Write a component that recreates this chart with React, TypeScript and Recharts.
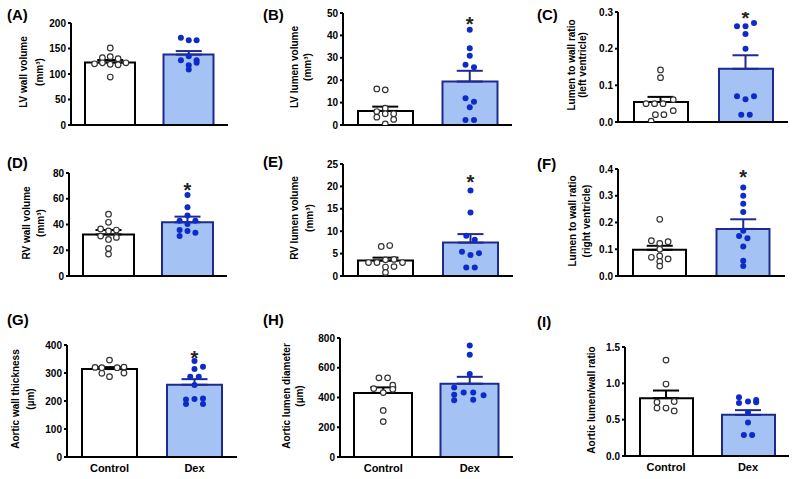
import React from "react";
import { ComposedChart, Bar, Cell, XAxis, YAxis, Scatter, ErrorBar } from "recharts";

const groups = ["Control", "Dex"];

// (A) LV wall volume
const aControl = [151, 132, 134, 130, 120, 122, 119, 118, 122, 94];
const aControlCol = [0, -1, 0, 1, -2, -1, 0, 1, 2, 0];
const aDex = [171, 166, 166, 127, 135, 127, 117, 122, 109];
const aDexCol = [-1, 0, 1, -1, 0, 1, 0, 1, 0];
const aMean = [122.5, 138];
const aSem = [5, 7];

// (B) LV lumen volume
const bControl = [16.1, 15.7, 7.5, 6, 5, 5, 3.5, 2.5, 0.5];
const bControlCol = [-1, 0, 0, -1, 0, 1, -1, 1, 0];
const bDex = [42.5, 34.3, 30.9, 26.9, 25.8, 11.9, 10.4, 7.9, 2.2, 2.2];
const bDexCol = [0, 0, 0, -0.5, 0.5, -0.5, 0.5, 0, -0.5, 0.5];
const bMean = [6.3, 19.4];
const bSem = [1.9, 4.8];

// (C) lumen to wall ratio, left ventricle
const cControl = [0.142, 0.121, 0.05, 0.05, 0.05, 0.061, 0.02, 0.02, 0.031, 0.002];
const cControlCol = [0, 0, -1.7, -0.7, 0.3, 1.5, -0.6, 0.4, 1.5, -1.1];
const cDex = [0.261, 0.261, 0.27, 0.24, 0.2, 0.07, 0.062, 0.07, 0.02, 0.02];
const cDexCol = [-1, 0, 1, 0, 0, -1, 0, 1, -0.5, 0.5];
const cMean = [0.0545, 0.145];
const cSem = [0.014, 0.037];

// (D) RV wall volume
const dControl = [48, 41.7, 36.5, 35, 35.7, 31, 30, 28.4, 21.4, 17];
const dControlCol = [0, 0, -1, 0, 1, -1, 1, 0, 0, 0];
const dDex = [63, 53.4, 46.9, 43, 43, 40.4, 35.7, 34.9, 33.6, 31];
const dDexCol = [0, 0, 0, -1, 1, 0, -1, 0, 1, -1];
const dMean = [32.3, 41.7];
const dSem = [3.4, 4.4];

// (E) RV lumen volume
const eControl = [6.6, 6.8, 3.0, 3.0, 3.6, 3.7, 3.0, 2.1, 2.0, 0.8];
const eControlCol = [-0.5, 0.5, -2, -1, 0, 1, 2, 1, 0, 0];
const eDex = [19.1, 14.2, 9.0, 8.1, 5.4, 4.7, 5.1, 1.9, 1.9];
const eDexCol = [0, 0, -0.5, 0.5, -1, 0, 1, -0.5, 0.5];
const eMean = [3.45, 7.45];
const eSem = [0.65, 1.9];

// (F) lumen to wall ratio, right ventricle
const fControl = [0.212, 0.132, 0.122, 0.128, 0.1, 0.07, 0.075, 0.064, 0.054, 0.037];
const fControlCol = [0, -1, 0, 1, 0, -1, 0, 1, 0, 0];
const fDex = [0.331, 0.3, 0.27, 0.239, 0.169, 0.15, 0.141, 0.11, 0.057, 0.037];
const fDexCol = [0, 0, 0, 0, 0, -0.5, 0.5, 0, 0, 0];
const fMean = [0.098, 0.176];
const fSem = [0.015, 0.036];

// (G) aortic wall thickness
const gControl = [346, 320, 319, 319, 321, 299, 300, 287];
const gControlCol = [0, -1.7, -0.9, 0.9, 1.7, -0.9, 1.7, 0];
const gDex = [343, 314, 322, 287, 287, 257, 205, 207, 209, 189, 189];
const gDexCol = [0, 0, 1, -0.5, 0.5, 0, -1, 0, 1, -1, 1];
const gMean = [314, 258];
const gSem = [7, 20];

// (H) aortic lumen diameter
const hControl = [532, 532, 460, 433, 483, 455, 313, 238];
const hControlCol = [-0.5, 0.5, -1.1, 0, 1.1, 1.1, 0, 0];
const hDex = [750, 687, 558, 467, 419, 381, 433, 433, 415, 385];
const hDexCol = [0, 0, 0, -1.8, -1.8, -1.8, -0.7, 0.4, 1.6, 0.4];
const hMean = [431, 493];
const hSem = [37, 46];

// (I) aortic lumen/wall ratio
const iControl = [1.32, 0.99, 0.75, 0.74, 0.66, 0.66, 0.62];
const iControlCol = [0, 0, 1, -1.1, -1.1, 0, 1];
const iDex = [0.81, 0.77, 0.73, 0.75, 0.74, 0.6, 0.46, 0.29, 0.29];
const iDexCol = [-1.1, 1, -1.1, 0, 1, 0, 0, -0.5, 0.5];
const iMean = [0.796, 0.566];
const iSem = [0.105, 0.065];

const DEX_FILL = "#a4c2f4";
const DEX_EDGE = "#1f2a8f";
const DEX_DOT = "#0d2bc9";
const FONT = "'Liberation Sans', Arial, sans-serif";

const YW = 40;
const MT = 8;
const MR = 4;
const XH = 26;
const JIT = 0.1;

const panels = [
  { id: "A", title: ["LV wall volume", "(mm³)"], ticks: [0, 50, 100, 150, 200], dec: 0,
    control: aControl, controlCol: aControlCol, dex: aDex, dexCol: aDexCol, mean: aMean, sem: aSem, star: null,
    axisX: 71, top: 23, bottom: 125, right: 228, barSize: 50, titleDx: [-47, -31], lx: 7, ly: 20, cats: false },
  { id: "B", title: ["LV lumen volume", "(mm³)"], ticks: [0, 10, 20, 30, 40, 50], dec: 0,
    control: bControl, controlCol: bControlCol, dex: bDex, dexCol: bDexCol, mean: bMean, sem: bSem, star: 47.5,
    axisX: 343, top: 13, bottom: 125, right: 512, barSize: 55, titleDx: [-48, -35], lx: 263, ly: 20, cats: false },
  { id: "C", title: ["Lumen to wall ratio", "(left ventricle)"], ticks: [0, 0.1, 0.2, 0.3], dec: 1,
    control: cControl, controlCol: cControlCol, dex: cDex, dexCol: cDexCol, mean: cMean, sem: cSem, star: 0.296,
    axisX: 618, top: 12, bottom: 122, right: 788, barSize: 54, titleDx: [-46, -35], lx: 537, ly: 20, cats: false },
  { id: "D", title: ["RV wall volume", "(mm³)"], ticks: [0, 20, 40, 60, 80], dec: 0,
    control: dControl, controlCol: dControlCol, dex: dDex, dexCol: dDexCol, mean: dMean, sem: dSem, star: 70.5,
    axisX: 69, top: 173, bottom: 276, right: 227, barSize: 51, titleDx: [-42, -28], lx: 7, ly: 168, cats: false },
  { id: "E", title: ["RV lumen volume", "(mm³)"], ticks: [0, 5, 10, 15, 20, 25], dec: 0,
    control: eControl, controlCol: eControlCol, dex: eDex, dexCol: eDexCol, mean: eMean, sem: eSem, star: 22,
    axisX: 343, top: 164, bottom: 276, right: 513, barSize: 55, titleDx: [-48, -33], lx: 263, ly: 167, cats: false },
  { id: "F", title: ["Lumen to wall ratio", "(right ventricle)"], ticks: [0, 0.1, 0.2, 0.3, 0.4], dec: 1,
    control: fControl, controlCol: fControlCol, dex: fDex, dexCol: fDexCol, mean: fMean, sem: fSem, star: 0.388,
    axisX: 618, top: 169, bottom: 276, right: 785, barSize: 53, titleDx: [-45, -31], lx: 537, ly: 169, cats: false },
  { id: "G", title: ["Aortic wall thickness", "(µm)"], ticks: [0, 100, 200, 300, 400], dec: 0,
    control: gControl, controlCol: gControlCol, dex: gDex, dexCol: gDexCol, mean: gMean, sem: gSem, star: 372,
    axisX: 67, top: 345, bottom: 457, right: 237, barSize: 55, titleDx: [-51, -36], lx: 7, ly: 325, cats: true },
  { id: "H", title: ["Aortic lumen diameter", "(µm)"], ticks: [0, 200, 400, 600, 800], dec: 0,
    control: hControl, controlCol: hControlCol, dex: hDex, dexCol: hDexCol, mean: hMean, sem: hSem, star: null,
    axisX: 340, top: 338, bottom: 457, right: 513, barSize: 58, titleDx: [-53, -40], lx: 263, ly: 325, cats: true },
  { id: "I", title: ["Aortic lumen/wall ratio"], ticks: [0, 0.5, 1, 1.5], dec: 1,
    control: iControl, controlCol: iControlCol, dex: iDex, dexCol: iDexCol, mean: iMean, sem: iSem, star: null,
    axisX: 625, top: 347, bottom: 456, right: 789, barSize: 53, titleDx: [-33], lx: 537, ly: 327, cats: true },
];

// vertical axis title, read bottom to top, centred on the panel's plot height
function AxisTitle({ p }: { p: any }) {
  const cy = (p.top + p.bottom) / 2 - 2;
  return (
    <>
      {p.title.map((t: string, i: number) => (
        <div key={i} style={{
          position: "absolute", left: p.axisX + p.titleDx[i], top: cy,
          transform: "translate(-50%, -50%) rotate(180deg)", writingMode: "vertical-rl",
          whiteSpace: "nowrap", fontSize: 10, lineHeight: "12px", fontWeight: "bold", color: "#000",
        }}>
          {t}
        </div>
      ))}
    </>
  );
}

function Panel({ p }: { p: any }) {
  const plotH = p.bottom - p.top;
  const width = p.right - p.axisX + YW + MR;
  const height = plotH + MT + XH;
  const bars = groups.map((g, i) => ({ name: g, mean: p.mean[i] }));
  const ctrlPts = p.control.map((v: number, i: number) => ({ x: 0.5 + p.controlCol[i] * JIT, y: v }));
  const dexPts = p.dex.map((v: number, i: number) => ({ x: 1.5 + p.dexCol[i] * JIT, y: v }));
  const ctrlMean = [{ x: 0.5, y: p.mean[0], err: [0, p.sem[0]] }];
  const dexMean = [{ x: 1.5, y: p.mean[1], err: [0, p.sem[1]] }];
  const max = p.ticks[p.ticks.length - 1];
  const axis = { stroke: "#000", strokeWidth: 2 };

  return (
    <div style={{ position: "absolute", left: p.axisX - YW, top: p.top - MT }}>
      <ComposedChart width={width} height={height} data={bars} margin={{ top: MT, right: MR, bottom: 0, left: 0 }}>
        <XAxis xAxisId="cat" dataKey="name" type="category" height={XH} axisLine={axis} tickLine={false}
          tickSize={0} tickMargin={7} interval={0}
          tick={p.cats ? { fill: "#000", fontSize: 11, fontWeight: "bold", fontFamily: FONT } : false} />
        <XAxis xAxisId="num" dataKey="x" type="number" domain={[0, 2]} allowDataOverflow hide />
        <YAxis width={YW} type="number" domain={[0, max]} ticks={p.ticks} allowDataOverflow interval={0}
          axisLine={axis} tickLine={axis} tickSize={3} tickMargin={2}
          tick={{ fill: "#000", fontSize: 10, fontWeight: "bold", fontFamily: FONT }}
          tickFormatter={(v: number) => v.toFixed(p.dec)} />
        <Bar xAxisId="cat" dataKey="mean" barSize={p.barSize} strokeWidth={2} isAnimationActive={false}>
          <Cell fill="#ffffff" stroke="#000000" />
          <Cell fill={DEX_FILL} stroke={DEX_EDGE} />
        </Bar>
        <Scatter xAxisId="num" data={ctrlMean} dataKey="y" shape={() => <g />} isAnimationActive={false}>
          <ErrorBar dataKey="err" direction="y" width={13} stroke="#000" strokeWidth={2} isAnimationActive={false} />
        </Scatter>
        <Scatter xAxisId="num" data={dexMean} dataKey="y" shape={() => <g />} isAnimationActive={false}>
          <ErrorBar dataKey="err" direction="y" width={13} stroke={DEX_EDGE} strokeWidth={2} isAnimationActive={false} />
        </Scatter>
        <Scatter xAxisId="num" data={ctrlPts} dataKey="y" isAnimationActive={false}
          shape={(s: any) => <circle cx={s.cx} cy={s.cy} r={2.8} fill="#fff" stroke="#333" strokeWidth={1.2} />} />
        <Scatter xAxisId="num" data={dexPts} dataKey="y" isAnimationActive={false}
          shape={(s: any) => <circle cx={s.cx} cy={s.cy} r={3} fill={DEX_DOT} />} />
        {p.star != null && (
          <Scatter xAxisId="num" data={[{ x: 1.5, y: p.star }]} dataKey="y" isAnimationActive={false}
            shape={(s: any) => (
              <text x={s.cx} y={s.cy + 5} textAnchor="middle" dominantBaseline="central" fontSize={20}
                fontWeight="bold" fill="#222" fontFamily={FONT}>*</text>
            )} />
        )}
      </ComposedChart>
    </div>
  );
}

export default function App() {
  return (
    <div style={{ position: "absolute", left: 0, top: 0, width: 800, height: 479, background: "#fff", fontFamily: FONT }}>
      {panels.map((p) => (
        <div key={p.id} style={{
          position: "absolute", left: p.lx, top: p.ly - 14, fontSize: 15, lineHeight: "17px",
          fontWeight: "bold", color: "#000",
        }}>
          ({p.id})
        </div>
      ))}
      {panels.map((p) => (
        <AxisTitle key={p.id} p={p} />
      ))}
      {panels.map((p) => (
        <Panel key={p.id} p={p} />
      ))}
    </div>
  );
}
